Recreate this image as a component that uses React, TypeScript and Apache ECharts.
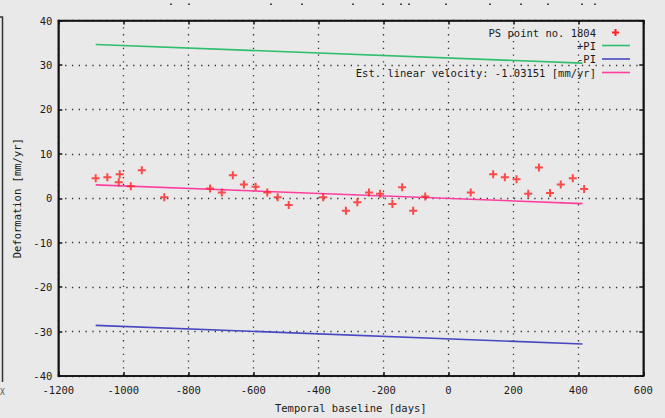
import React, { useEffect, useRef } from "react";
import * as echarts from "echarts";

const xTicks = { min: -1200, max: 600, interval: 200 };
const yTicks = { min: -40, max: 40, interval: 10 };

// PS point observations: [days, deformation mm/yr]
const psDays = [
  -1085, -1049, -1011, -1014, -977, -943, -874, -733, -697, -663, -629, -593, -557, -525, -491,
  -385, -315, -280, -244, -210, -172, -142, -108, -71, 69, 138, 174, 210, 246, 279, 313, 346, 383, 418,
];
const psValues = [
  4.5, 4.7, 5.4, 3.6, 2.7, 6.3, 0.2, 2.2, 1.3, 5.2, 3.1, 2.6, 1.3, 0.2, -1.5,
  0.2, -2.8, -0.9, 1.3, 1.0, -1.3, 2.5, -2.8, 0.4, 1.3, 5.4, 4.7, 4.3, 1.0, 6.9, 1.2, 3.1, 4.5, 2.1,
];

const lineDays = [-1085, 413];
const plusPI = [34.6, 30.4];
const minusPI = [-28.6, -32.8];
const velocityLine = [3.0, -1.2];

const legendLabels = ["PS point no. 1804", "+PI", "-PI", "Est. linear velocity: -1.03151 [mm/yr]"];

const FONT = "DejaVu Sans Mono";
const PLUS = "path://M3,0H5V3H8V5H5V8H3V5H0V3H3Z";

export default function App() {
  const ref = useRef<HTMLDivElement>(null);
  useEffect(() => {
    if (!ref.current) return;
    const chart = echarts.init(ref.current, undefined, { renderer: "svg" });
    const grid = { left: 58.3, right: 21.7, top: 20.5, bottom: 40 };
    const tickStyle = { color: "#111", width: 1.5 };
    const split = { show: true, lineStyle: { color: "#333", width: 1.3, type: [1.3, 5.5] as any } };
    const labelStyle = { fontFamily: FONT, fontSize: 10.5, color: "#1a1a1a" };
    const axisLine = { show: true, onZero: false, lineStyle: { color: "#111", width: 1.5 } };
    const legendX = 596;
    const legendY = [32.5, 45.5, 59, 72.5];
    const colors = ["#ff2222", "#2fbf6c", "#4848c0", "#ff3fa0"];
    const fmt = (v: number) => String(v);
    chart.setOption({
      animation: false,
      backgroundColor: "#e9e9e9",
      grid: { ...grid, show: true, borderColor: "#111", borderWidth: 1.5 },
      xAxis: [
        {
          type: "value",
          min: xTicks.min,
          max: xTicks.max,
          interval: xTicks.interval,
          axisLine,
          axisTick: { show: true, inside: true, length: 4, lineStyle: tickStyle },
          axisLabel: { ...labelStyle, margin: 8, formatter: fmt, showMinLabel: true, showMaxLabel: true },
          splitLine: split,
          name: "Temporal baseline [days]",
          nameLocation: "middle",
          nameGap: 26,
          nameTextStyle: { ...labelStyle },
        },
        {
          type: "value",
          position: "top",
          min: xTicks.min,
          max: xTicks.max,
          interval: xTicks.interval,
          axisLine,
          axisTick: { show: true, inside: true, length: 4, lineStyle: tickStyle },
          axisLabel: { show: false },
          splitLine: { show: false },
        },
      ],
      yAxis: [
        {
          type: "value",
          min: yTicks.min,
          max: yTicks.max,
          interval: yTicks.interval,
          axisLine,
          axisTick: { show: true, inside: true, length: 4, lineStyle: tickStyle },
          axisLabel: { ...labelStyle, margin: 6, formatter: fmt },
          splitLine: split,
          name: "Deformation [mm/yr]",
          nameLocation: "middle",
          nameGap: 36,
          nameTextStyle: { ...labelStyle },
        },
        {
          type: "value",
          position: "right",
          min: yTicks.min,
          max: yTicks.max,
          interval: yTicks.interval,
          axisLine,
          axisTick: { show: true, inside: true, length: 4, lineStyle: tickStyle },
          axisLabel: { show: false },
          splitLine: { show: false },
        },
      ],
      series: [
        {
          type: "line",
          data: lineDays.map((d, i) => [d, plusPI[i]]),
          symbol: "none",
          lineStyle: { color: colors[1], width: 1.6 },
        },
        {
          type: "line",
          data: lineDays.map((d, i) => [d, minusPI[i]]),
          symbol: "none",
          lineStyle: { color: colors[2], width: 1.6 },
        },
        {
          type: "line",
          data: lineDays.map((d, i) => [d, velocityLine[i]]),
          symbol: "none",
          lineStyle: { color: colors[3], width: 1.6 },
        },
        {
          type: "scatter",
          data: psDays.map((d, i) => [d, psValues[i]]),
          symbol: PLUS,
          symbolSize: 8,
          itemStyle: { color: colors[0] },
          z: 5,
        },
      ],
      graphic: [
        ...legendLabels.map((t, i) => ({
          type: "text",
          x: legendX,
          y: legendY[i],
          style: {
            text: t,
            textAlign: "right",
            textVerticalAlign: "middle",
            fontFamily: FONT,
            fontSize: 10.5,
            fill: "#1a1a1a",
          },
        })),
        {
          type: "group",
          children: [
            { type: "rect", shape: { x: 614.5, y: legendY[0] - 3.5, width: 2, height: 7 }, style: { fill: colors[0] } },
            { type: "rect", shape: { x: 612, y: legendY[0] - 1, width: 7, height: 2 }, style: { fill: colors[0] } },
          ],
        },
        ...[1, 2, 3].map((i) => ({
          type: "line",
          shape: { x1: 602, y1: legendY[i], x2: 630, y2: legendY[i] },
          style: { stroke: colors[i], lineWidth: 1.6 },
        })),
        {
          type: "polyline",
          shape: { points: [[0, 17], [2.5, 17], [2.5, 382]] },
          style: { stroke: "#333", lineWidth: 1.5, fill: "none" },
        },
        {
          type: "text",
          x: 0,
          y: 392,
          style: { text: "X", fontFamily: FONT, fontSize: 8, fill: "#555", textVerticalAlign: "middle" },
        },
        ...[171, 189, 271, 302, 353, 383, 401, 409, 446, 490, 521, 548, 582, 595].map((x) => ({
          type: "rect",
          shape: { x: x - 1, y: 3.5, width: 2, height: 1.5 },
          style: { fill: "#444" },
        })),
      ],
    });
    return () => chart.dispose();
  }, []);
  return <div ref={ref} style={{ width: 665, height: 418, position: "absolute", left: 0, top: 0 }} />;
}
